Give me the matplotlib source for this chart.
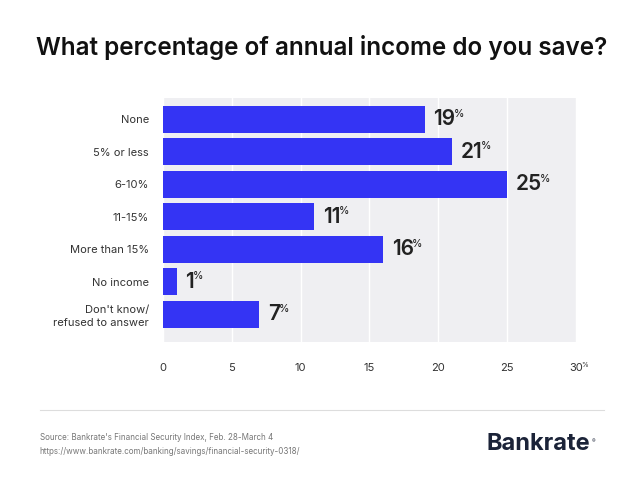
import matplotlib
matplotlib.use("Agg")
import matplotlib.pyplot as plt

categories = ["None", "5% or less", "6-10%", "11-15%", "More than 15%",
              "No income", "Don't know/\nrefused to answer"]
values = [19, 21, 25, 11, 16, 1, 7]
xticks = [0, 5, 10, 15, 20, 25, 30]

bar_color = "#3434F4"
bg_color = "#EFEFF2"
text_color = "#222222"

plt.rcParams["font.family"] = ["Inter", "DejaVu Sans"]

fig = plt.figure(figsize=(6.43, 4.98), dpi=100)
ax = fig.add_axes([0.2535, 0.3133, 0.6423, 0.49])
ax.set_facecolor(bg_color)

ypos = list(range(len(categories)))
ax.barh(ypos, values, height=0.83, color=bar_color, zorder=3)

ax.set_xlim(0, 30)
ax.set_ylim(6.85, -0.66)
ax.set_xticks(xticks)
ax.set_xticklabels([str(t) for t in xticks], fontsize=8, color="#333333")
ax.set_yticks(ypos)
ax.set_yticklabels(categories, fontsize=8, color="#333333", linespacing=1.3)
ax.tick_params(axis="both", length=0)
ax.tick_params(axis="x", pad=15)
ax.tick_params(axis="y", pad=10)
ax.grid(axis="x", color="white", linewidth=1, zorder=1)
for s in ax.spines.values():
    s.set_visible(False)

fig.text(0.5, 0.905, "What percentage of annual income do you save?",
         ha="center", va="center", fontsize=17.5, fontweight="semibold",
         color="#111111")

# value labels with small percent sign
fig.canvas.draw()
r = fig.canvas.get_renderer()
for y, v in zip(ypos, values):
    t = ax.annotate(str(v), (v, y), xytext=(6, 0), textcoords="offset points",
                    ha="left", va="center", fontsize=15, fontweight="semibold",
                    color=text_color)
    bb = t.get_window_extent(r)
    xd, _ = ax.transData.inverted().transform((bb.x1, bb.y1))
    ax.annotate("%", (xd, y), xytext=(-1, 4), textcoords="offset points",
                ha="left", va="center", fontsize=7.5, fontweight="medium",
                color=text_color, annotation_clip=False)

# percent on last tick
lbl = ax.get_xticklabels()[-1]
bb = lbl.get_window_extent(r)
fx, fy = fig.transFigure.inverted().transform((bb.x1, bb.y1))
fig.text(fx - 0.002, fy + 0.002, "%", fontsize=5, color="#333333", va="top")

# footer
fig.add_artist(plt.Line2D([0.062, 0.94], [0.177, 0.177], color="#DDDDDD",
                          linewidth=0.8))
fig.text(0.062, 0.122, "Source: Bankrate's Financial Security Index, Feb. 28-March 4",
         fontsize=5.8, color="#777777", va="center")
fig.text(0.062, 0.094, "https://www.bankrate.com/banking/savings/financial-security-0318/",
         fontsize=5.8, color="#777777", va="center")
logo = fig.text(0.757, 0.108, "Bankrate", fontsize=17, fontweight="bold",
                color="#1B2338", va="center")
fig.canvas.draw()
lb = logo.get_window_extent(r)
lx, ly = fig.transFigure.inverted().transform((lb.x1, lb.y1))
fig.text(lx + 0.002, ly - 0.012, "®", fontsize=4, color="#1B2338", va="top")

fig.savefig("out.png", dpi=100)
